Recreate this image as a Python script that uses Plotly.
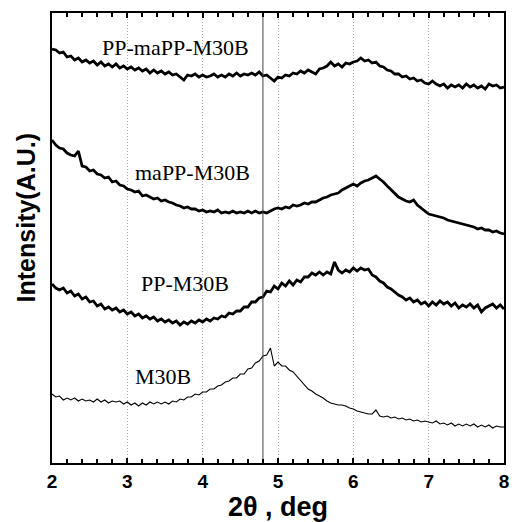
import numpy as np
import plotly.graph_objects as go

# 2-theta sampling grid (deg)
two_theta = np.round(np.arange(2.0, 8.0001, 0.05), 2)

# Intensities (arbitrary units)
pp_mapp_m30b = [
    451,450,447,448,443,444,440,442,438,440,
    437,439,435,438,434,436,433,436,432,434,
    431,433,430,432,429,431,427,430,427,429,
    426,428,425,426,423,420,425,424,426,423,
    425,423,424,426,423,425,423,426,424,427,
    424,426,425,427,425,428,424,425,422,419,
    423,422,425,424,427,426,429,427,430,428,
    426,431,432,434,438,434,436,433,437,436,
    438,439,442,439,440,437,438,434,433,430,
    429,426,426,423,424,421,422,419,420,417,
    416,419,416,414,416,412,415,413,415,412,
    416,413,415,412,414,411,416,414,415,412,
    413]

mapp_m30b = [
    360,355,352,351,347,345,344,349,334,333,
    329,330,326,325,322,323,318,319,315,314,
    311,310,308,309,304,305,303,301,302,299,
    300,298,297,295,294,292,293,291,291,289,
    290,288,289,288,290,287,288,287,289,287,
    288,287,289,287,289,287,288,287,289,291,
    292,291,293,292,295,294,295,297,296,298,
    298,300,302,303,305,306,307,310,312,314,
    316,314,317,319,320,322,324,321,318,314,
    310,307,303,301,299,298,300,295,292,289,
    286,285,284,283,282,280,279,278,277,276,
    275,274,273,271,272,270,270,268,269,267,
    266]

pp_m30b = [
    216,212,210,212,207,209,204,206,201,203,
    198,199,194,196,191,193,190,192,188,190,
    186,188,184,186,182,184,181,183,179,181,
    178,180,177,179,175,178,176,179,177,180,
    178,181,179,182,181,184,183,187,186,189,
    189,193,193,198,198,202,203,209,208,214,
    211,217,214,219,215,220,218,223,223,227,
    225,228,225,228,226,238,230,227,230,228,
    232,229,232,230,231,225,223,219,217,213,
    211,208,205,203,200,202,198,200,196,198,
    194,198,195,199,196,198,194,197,192,195,
    193,196,192,195,188,192,194,196,192,195,
    191]

m30b = [
    106,103,104,100,102,100,102,99,101,99,
    100,98,101,98,100,97,99,98,99,96,
    98,95,97,94,97,95,98,96,98,96,
    98,96,99,98,101,100,103,103,106,105,
    108,108,111,111,114,115,118,119,122,122,
    126,126,131,132,137,139,144,145,152,134,
    138,134,134,130,128,124,119,116,111,109,
    106,104,102,99,97,96,95,95,94,92,
    91,89,88,87,86,86,90,84,83,84,
    82,83,81,82,80,81,79,80,78,79,
    78,77,79,76,77,75,77,74,76,74,
    76,74,76,73,75,73,75,72,74,73,
    73]

series_names = ["PP-maPP-M30B", "maPP-M30B", "PP-M30B", "M30B"]
series_values = [pp_mapp_m30b, mapp_m30b, pp_m30b, m30b]
series_widths = [2.8, 2.8, 2.8, 1.1]

label_x = [3.64, 3.86, 3.76, 3.47]
label_y = [453, 328, 217, 124]

x_ticks = [2, 3, 4, 5, 6, 7, 8]
ref_line_x = 4.8
y_range = [37, 487]

fig = go.Figure()
for name, vals, w in zip(series_names, series_values, series_widths):
    fig.add_trace(go.Scatter(x=two_theta, y=vals, mode="lines", name=name,
                             line=dict(color="black", width=w), showlegend=False))

fig.add_trace(go.Scatter(x=[ref_line_x, ref_line_x], y=y_range, mode="lines",
                         line=dict(color="#444", width=1), showlegend=False))

for name, lx, ly in zip(series_names, label_x, label_y):
    fig.add_annotation(x=lx, y=ly, xref="x", yref="y", text=name, showarrow=False,
                       font=dict(family="Liberation Serif", size=22, color="black"))

fig.add_annotation(x=-0.057, y=0.544, xref="paper", yref="paper", text="Intensity(A.U.)",
                   textangle=-90, showarrow=False, xanchor="center", yanchor="middle",
                   font=dict(family="Liberation Sans", size=25, color="black", weight="bold"))

fig.update_layout(
    width=512, height=522,
    margin=dict(l=52, r=3, t=13, b=59),
    paper_bgcolor="white", plot_bgcolor="white",
    xaxis=dict(range=[2, 8], tickvals=x_ticks, ticktext=[str(t) for t in x_ticks],
               showline=True, linewidth=2, linecolor="black", mirror="allticks",
               ticks="inside", ticklen=5, tickwidth=1.5, tickcolor="black",
               ticklabeloverflow="allow",
               showgrid=True, gridcolor="#aaa", griddash="1px,2px", gridwidth=1,
               minor=dict(dtick=0.2, ticks="inside", ticklen=4, tickcolor="black",
                          tickwidth=1.5, showgrid=False),
               tickfont=dict(family="Liberation Sans", size=19, color="black", weight="bold"),
               title=dict(text="2θ , deg", standoff=3,
                          font=dict(family="Liberation Sans", size=27, color="black", weight="bold")),
               zeroline=False),
    yaxis=dict(range=y_range, showline=True, linewidth=2, linecolor="black", mirror=True,
               showticklabels=False, ticks="", showgrid=False, zeroline=False),
)

fig.write_html("out.html", config={"displayModeBar": False},
               post_script="document.body.style.margin='0';document.body.style.overflow='hidden';")
